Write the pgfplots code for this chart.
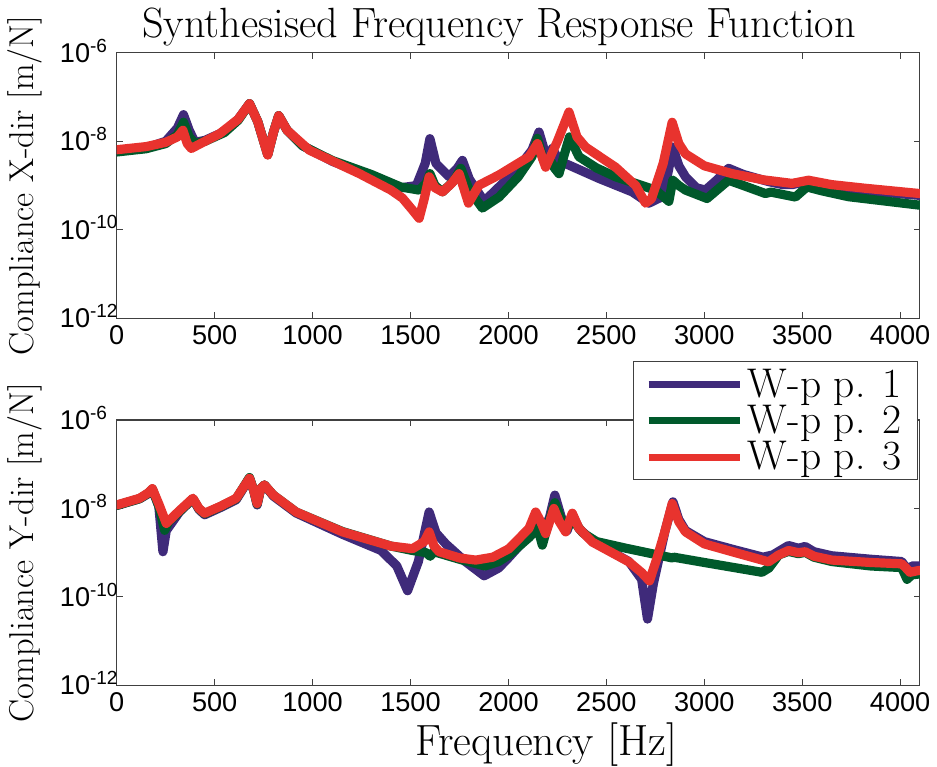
\documentclass[border=0pt]{standalone}
\usepackage{fontspec}
\usepackage{pgfplots}
\pgfplotsset{compat=1.18}
\newfontfamily\tickfont{Liberation Sans}
\definecolor{wpone}{HTML}{3F2A7A}
\definecolor{wptwo}{HTML}{00592B}
\definecolor{wpthree}{HTML}{E8332E}

\pgfplotsset{
  scale only axis,
  width=402.5pt, height=133pt,
  xmin=0, xmax=4100,
  xtick={0,500,1000,1500,2000,2500,3000,3500,4000},
  xticklabels={0,500,1000,1500,2000,2500,3000,3500,4000},
  yminorticks=false, xminorticks=false,
  tick align=inside, tick pos=both,
  major tick length=3pt,
  ticklabel style={font=\tickfont\fontsize{13.6}{15}\selectfont},
  yticklabel style={anchor=base west, xshift=-32pt, yshift=-4.8pt},
  axis line style={black!75, line width=0.6pt},
  every tick/.style={black!75, line width=0.6pt},
  every axis plot/.append style={line width=4.6pt, line join=round, line cap=round},
  every axis y label/.style={at={(axis description cs:-0.114,0.5)}, rotate=90, anchor=center,
    font=\fontsize{17.3}{19}\selectfont},
}

\begin{document}
\begin{tikzpicture}
% page margins as in the reference
\path (-58.5pt,26.5pt) -- (410pt,26.5pt);
\path (0,-357.5pt);

% X-direction
\begin{axis}[at={(0,0)}, anchor=north west,
    ymode=log, ymin=1e-12, ymax=1e-6,
    ytick={1e-12,1e-10,1e-8,1e-6},
    yticklabels={10\textsuperscript{-12},10\textsuperscript{-10},10\textsuperscript{-8},10\textsuperscript{-6}},
    title={Synthesised Frequency Response Function},
    title style={at={(axis description cs:0.476,1)}, anchor=base, yshift=1.5pt, inner sep=0pt,
      font=\fontsize{21.2}{23}\selectfont},
    ylabel={Compliance X-dir [m/N]}]
\addplot[wpone, no markers] coordinates {
(0,6.0e-9) (150,7.1e-9) (250,1.0e-8) (310,2.0e-8) (341,4.0e-8) (370,1.78e-8) (400,9.5e-9)
(450,1.05e-8) (550,1.66e-8) (620,3.16e-8) (678,7.1e-8) (720,2.8e-8) (771,5.0e-9) (800,1.58e-8)
(827,3.8e-8) (870,1.78e-8) (950,7.9e-9) (1100,3.55e-9) (1300,1.58e-9) (1450,8.9e-10) (1530,1.0e-9)
(1575,3.16e-9) (1599,1.15e-8) (1630,3.16e-9) (1697,1.58e-9) (1740,2.5e-9) (1765,3.7e-9) (1800,1.41e-9)
(1876,4.4e-10) (1952,9.3e-10) (2050,2.5e-9) (2120,6.3e-9) (2156,1.62e-8) (2190,5.0e-9) (2207,3.16e-9)
(2224,6.9e-9) (2260,3.55e-9) (2309,2.9e-9) (2462,1.45e-9) (2632,7.2e-10) (2717,4.0e-10) (2785,5.6e-10)
(2815,2.0e-9) (2839,7.4e-9) (2870,2.8e-9) (2904,1.58e-9) (2960,8.9e-10) (3006,7.9e-10) (3070,1.41e-9)
(3124,2.45e-9) (3200,1.78e-9) (3328,1.23e-9) (3400,1.05e-9) (3448,1.05e-9) (3532,1.26e-9) (3650,9.5e-10)
(3821,7.6e-10) (4100,6.0e-10)
};
\addplot[wptwo, no markers] coordinates {
(0,5.75e-9) (150,6.8e-9) (250,8.9e-9) (310,1.41e-8) (341,2.7e-8) (370,1.26e-8) (400,8.9e-9)
(450,1.0e-8) (550,1.58e-8) (620,3.0e-8) (678,7.1e-8) (720,2.8e-8) (771,5.0e-9) (800,1.58e-8)
(827,3.8e-8) (870,1.78e-8) (950,7.9e-9) (1100,3.7e-9) (1300,1.78e-9) (1450,9.3e-10) (1544,7.9e-10)
(1580,1.12e-9) (1599,1.86e-9) (1625,1.0e-9) (1663,7.2e-10) (1720,1.26e-9) (1757,2.45e-9) (1800,7.9e-10)
(1867,3.1e-10) (1952,5.5e-10) (2050,1.58e-9) (2120,4.5e-9) (2148,1.17e-8) (2180,3.55e-9) (2210,4.0e-9)
(2235,2.5e-9) (2258,1.86e-9) (2285,5.0e-9) (2312,1.26e-8) (2360,4.5e-9) (2450,2.5e-9) (2547,1.58e-9)
(2751,7.9e-10) (2819,4.4e-10) (2839,1.32e-9) (2870,1.0e-9) (2904,7.9e-10) (3014,5.1e-10) (3124,1.32e-9)
(3200,1.0e-9) (3312,6.6e-10) (3340,7.1e-10) (3465,5.5e-10) (3524,9.3e-10) (3600,7.6e-10) (3736,5.6e-10)
(4100,3.6e-10)
};
\addplot[wpthree, no markers] coordinates {
(0,6.46e-9) (150,7.6e-9) (250,9.5e-9) (310,1.26e-8) (338,1.78e-8) (360,8.9e-9) (381,6.9e-9)
(450,1.0e-8) (525,1.48e-8) (620,3.16e-8) (678,7.1e-8) (720,2.8e-8) (771,4.9e-9) (800,1.58e-8)
(827,3.8e-8) (870,1.78e-8) (984,6.3e-9) (1239,1.86e-9) (1400,7.9e-10) (1459,5.2e-10) (1510,2.8e-10)
(1544,1.82e-10) (1570,5.0e-10) (1595,1.58e-9) (1625,8.9e-10) (1663,7.2e-10) (1710,1.12e-9) (1748,1.86e-9)
(1775,7.9e-10) (1796,4.0e-10) (1850,1.02e-9) (1952,1.74e-9) (2105,4.5e-9) (2148,8.9e-9) (2175,4.0e-9)
(2190,2.6e-9) (2250,1.0e-8) (2309,4.6e-8) (2350,1.26e-8) (2394,7.4e-9) (2547,2.6e-9) (2650,1.0e-9)
(2700,4.0e-10) (2730,5.0e-10) (2790,3.16e-9) (2836,2.7e-8) (2870,8.9e-9) (2904,5.2e-9) (3000,2.8e-9)
(3142,1.86e-9) (3300,1.35e-9) (3448,1.12e-9) (3532,1.32e-9) (3650,1.05e-9) (3821,8.7e-10) (4100,6.6e-10)
};
\end{axis}

% Y-direction
\begin{axis}[at={(0,-184pt)}, anchor=north west,
    ymode=log, ymin=1e-12, ymax=1e-6,
    ytick={1e-12,1e-10,1e-8,1e-6},
    yticklabels={10\textsuperscript{-12},10\textsuperscript{-10},10\textsuperscript{-8},10\textsuperscript{-6}},
    xlabel={Frequency [Hz]},
    xlabel style={at={(axis description cs:0.535,0)}, anchor=base, yshift=-35pt, inner sep=0pt,
      font=\fontsize{21.9}{23}\selectfont},
    ylabel={Compliance Y-dir [m/N]},
    legend style={at={(1,1)}, anchor=north east, xshift=-1pt, yshift=29.5pt,
      draw=black!75, fill=white, line width=0.6pt,
      font=\fontsize{20.8}{20}\selectfont, row sep=-1.5pt,
      inner xsep=6pt, inner ysep=1.5pt},
    legend cell align=left,
    legend image code/.code={\draw[#1, line width=3.5pt, line cap=butt] (0pt,0pt) -- (46pt,0pt);}]
\addplot[wpone, no markers] coordinates {
(0,1.17e-8) (117,1.66e-8) (160,2.14e-8) (182,2.7e-8) (215,1.12e-8) (236,1.05e-9) (253,3.16e-9)
(320,8.3e-9) (389,1.66e-8) (420,9.5e-9) (449,7.2e-9) (530,1.05e-8) (610,1.58e-8) (678,4.8e-8)
(700,2.5e-8) (717,1.2e-8) (735,2.8e-8) (754,3.4e-8) (800,1.9e-8) (916,7.9e-9) (1153,2.6e-9)
(1350,1.12e-9) (1430,5.0e-10) (1485,1.38e-10) (1540,6.3e-10) (1595,8.3e-9) (1630,2.8e-9) (1680,1.58e-9)
(1780,6.3e-10) (1876,3.0e-10) (1950,4.5e-10) (2003,7.9e-10) (2105,2.5e-9) (2150,5.6e-9) (2180,3.16e-9)
(2210,6.3e-9) (2237,2.0e-8) (2270,6.3e-9) (2300,3.16e-9) (2326,7.1e-9) (2360,3.55e-9) (2428,1.82e-9)
(2615,6.3e-10) (2680,2.5e-10) (2710,3.16e-11) (2740,2.0e-10) (2800,3.16e-9) (2840,1.41e-8) (2870,5.6e-9)
(2904,3.16e-9) (3000,1.78e-9) (3142,1.2e-9) (3300,7.9e-10) (3350,8.9e-10) (3430,1.45e-9) (3480,1.26e-9)
(3515,1.38e-9) (3560,1.05e-9) (3651,8.5e-10) (3850,7.1e-10) (4008,6.3e-10) (4040,4.0e-10) (4060,5.0e-10)
(4100,5.0e-10)
};
\addlegendentry{W-p p. 1}
\addplot[wptwo, no markers] coordinates {
(0,1.17e-8) (117,1.66e-8) (160,2.2e-8) (182,2.75e-8) (215,1.12e-8) (245,3.2e-9) (265,5.0e-9)
(320,8.5e-9) (389,1.66e-8) (420,9.8e-9) (449,7.6e-9) (530,1.1e-8) (610,1.66e-8) (678,5.0e-8)
(700,2.5e-8) (717,1.26e-8) (735,2.8e-8) (754,3.4e-8) (800,2.0e-8) (916,8.3e-9) (1153,3.0e-9)
(1400,1.41e-9) (1510,1.12e-9) (1580,1.0e-9) (1600,8.3e-10) (1620,1.05e-9) (1750,7.1e-10) (1880,5.0e-10)
(1950,6.3e-10) (2003,8.9e-10) (2105,2.2e-9) (2150,3.55e-9) (2173,1.48e-9) (2200,4.0e-9) (2237,1.35e-8)
(2270,5.6e-9) (2300,3.55e-9) (2326,5.6e-9) (2380,2.8e-9) (2450,1.78e-9) (2600,1.26e-9) (2836,7.6e-10)
(2845,7.9e-10) (3000,6.0e-10) (3294,3.6e-10) (3330,4.5e-10) (3380,8.9e-10) (3430,1.07e-9) (3480,9.5e-10)
(3515,1.02e-9) (3560,7.9e-10) (3651,6.3e-10) (3850,5.0e-10) (4008,4.6e-10) (4035,2.5e-10) (4060,3.16e-10)
(4100,3.3e-10)
};
\addlegendentry{W-p p. 2}
\addplot[wpthree, no markers] coordinates {
(0,1.2e-8) (117,1.7e-8) (160,2.24e-8) (182,2.8e-8) (215,1.26e-8) (253,4.6e-9) (320,8.9e-9)
(389,1.7e-8) (420,1.0e-8) (449,7.8e-9) (530,1.12e-8) (610,1.7e-8) (678,4.8e-8) (700,2.5e-8)
(717,1.29e-8) (735,2.8e-8) (754,3.4e-8) (800,2.0e-8) (916,8.3e-9) (1153,2.95e-9) (1400,1.41e-9)
(1510,1.23e-9) (1570,1.78e-9) (1595,2.95e-9) (1620,1.41e-9) (1646,1.05e-9) (1750,7.6e-10) (1833,6.8e-10)
(1920,7.9e-10) (2003,1.23e-9) (2105,3.55e-9) (2139,8.3e-9) (2165,5.0e-9) (2190,2.7e-9) (2210,5.0e-9)
(2232,1.0e-8) (2260,5.0e-9) (2292,2.95e-9) (2310,5.0e-9) (2326,7.8e-9) (2360,3.55e-9) (2428,1.74e-9)
(2615,6.2e-10) (2680,3.55e-10) (2720,2.3e-10) (2760,7.9e-10) (2800,3.16e-9) (2836,1.29e-8) (2870,5.0e-9)
(2904,2.95e-9) (3000,1.58e-9) (3142,1.05e-9) (3328,6.2e-10) (3380,8.9e-10) (3430,1.12e-9) (3480,1.0e-9)
(3515,1.05e-9) (3560,8.3e-10) (3651,6.8e-10) (3850,6.0e-10) (4008,5.6e-10) (4030,4.5e-10) (4050,3.6e-10)
(4100,4.0e-10)
};
\addlegendentry{W-p p. 3}
\end{axis}

\end{tikzpicture}
\end{document}
